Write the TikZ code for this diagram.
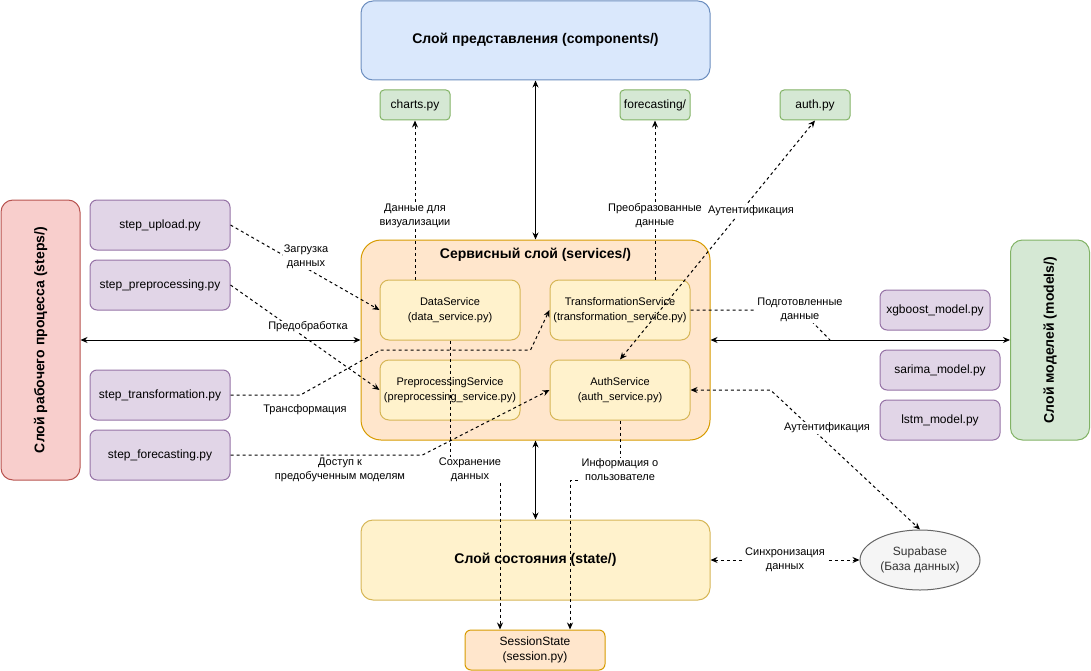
\documentclass[tikz,border=0pt]{standalone}
\usepackage{fontspec}
\setmainfont{Liberation Sans}
\usetikzlibrary{arrows.meta,shapes.geometric,calc}
\definecolor{blueF}{HTML}{DAE8FC}\definecolor{blueD}{HTML}{6C8EBF}
\definecolor{greenF}{HTML}{D5E8D4}\definecolor{greenD}{HTML}{82B366}
\definecolor{redF}{HTML}{F8CECC}\definecolor{redD}{HTML}{B85450}
\definecolor{purpF}{HTML}{E1D5E7}\definecolor{purpD}{HTML}{9673A6}
\definecolor{orF}{HTML}{FFE6CC}\definecolor{orD}{HTML}{D79B00}
\definecolor{yelF}{HTML}{FFF2CC}\definecolor{yelD}{HTML}{D6B656}
\definecolor{grayF}{HTML}{F5F5F5}\definecolor{grayD}{HTML}{666666}
\definecolor{grayT}{HTML}{333333}
\tikzset{
  base/.style={draw, line width=1pt, inner sep=0pt, align=center, font=\fontsize{12}{15}\selectfont},
  blue/.style={base, fill=blueF, draw=blueD},
  green/.style={base, fill=greenF, draw=greenD},
  red/.style={base, fill=redF, draw=redD},
  purp/.style={base, fill=purpF, draw=purpD},
  orng/.style={base, fill=orF, draw=orD},
  yel/.style={base, fill=yelF, draw=yelD},
  svcbox/.style={yel, rounded corners=9pt, minimum width=140pt, minimum height=60pt, font=\fontsize{11}{15}\selectfont},
  ttl/.style={font=\fontsize{14}{16}\selectfont\bfseries, inner sep=0pt},
  lbl/.style={font=\fontsize{11}{14}\selectfont, align=center, inner sep=1pt},
  lblw/.style={lbl, fill=white},
  sol/.style={line width=1pt, {Stealth[length=7pt,width=6pt]}-{Stealth[length=7pt,width=6pt]}},
  dsh/.style={line width=1pt, dash pattern=on 3pt off 3pt, -{Stealth[length=7pt,width=6pt]}},
  dshb/.style={line width=1pt, dash pattern=on 3pt off 3pt, {Stealth[length=7pt,width=6pt]}-{Stealth[length=7pt,width=6pt]}},
  dshn/.style={line width=1pt, dash pattern=on 3pt off 3pt},
}
\begin{document}
\begin{tikzpicture}[x=1pt,y=-1pt]
\path[use as bounding box] (0,0) rectangle (1091,671);
% layers
\node[blue, rounded corners=12pt, minimum width=349pt, minimum height=79pt] (pres) at (535.5,40.5) {};
\node[ttl] (prest) at (535.5,40) {Слой представления (components/)};
\node[red, rounded corners=12pt, minimum width=79pt, minimum height=280pt] (steps) at (40.5,340) {};
\node[ttl, rotate=90] (stepst) at (40.5,340) {Слой рабочего процесса (steps/)};
\node[orng, rounded corners=20pt, minimum width=349pt, minimum height=200pt] (svc) at (535.5,340) {};
\node[ttl] (svct) at (535.5,255) {Сервисный слой (services/)};
\node[yel, rounded corners=12pt, minimum width=349pt, minimum height=80pt] (state) at (535.5,560) {};
\node[ttl] (statet) at (535.5,560) {Слой состояния (state/)};
\node[green, rounded corners=12pt, minimum width=79pt, minimum height=200pt] (models) at (1050,340) {};
\node[ttl, rotate=90] (modelst) at (1050,340) {Слой моделей (models/)};
% components
\node[green, rounded corners=4pt, minimum width=70pt, minimum height=30pt] (charts) at (415,105) {charts.py};
\node[green, rounded corners=4pt, minimum width=70pt, minimum height=30pt] (fcst) at (655,105) {forecasting/};
\node[green, rounded corners=4pt, minimum width=70pt, minimum height=30pt] (authpy) at (815,105) {auth.py};
% steps
\node[purp, rounded corners=7pt, minimum width=140pt, minimum height=50pt] (sup) at (160,225) {step\_upload.py};
\node[purp, rounded corners=7pt, minimum width=140pt, minimum height=50pt] (spre) at (160,285) {step\_preprocessing.py};
\node[purp, rounded corners=7pt, minimum width=140pt, minimum height=50pt] (stra) at (160,395) {step\_transformation.py};
\node[purp, rounded corners=7pt, minimum width=140pt, minimum height=50pt] (sfor) at (160,455) {step\_forecasting.py};
% services
\node[svcbox] (data) at (450,310) {DataService\\(data\_service.py)};
\node[svcbox] (trans) at (620,310) {TransformationService\\(transformation\_service.py)};
\node[svcbox] (prep) at (450,390) {PreprocessingService\\(preprocessing\_service.py)};
\node[svcbox] (auth) at (620,390) {AuthService\\(auth\_service.py)};
% state
\node[orng, rounded corners=6pt, minimum width=140pt, minimum height=40pt] (sess) at (535,650) {SessionState\\(session.py)};
\node[ellipse, draw=grayD, fill=grayF, line width=1pt, inner sep=0pt, minimum width=120pt, minimum height=60pt, align=center, text=grayT, font=\fontsize{12}{15}\selectfont] (supa) at (920,560) {Supabase\\(База данных)};
% models
\node[purp, rounded corners=7pt, minimum width=110pt, minimum height=40pt] (xgb) at (935,310) {xgboost\_model.py};
\node[purp, rounded corners=7pt, minimum width=120pt, minimum height=40pt] (sar) at (940,370) {sarima\_model.py};
\node[purp, rounded corners=7pt, minimum width=120pt, minimum height=40pt] (lstm) at (940,420) {lstm\_model.py};
\coordinate (pdend) at (830,340);

% solid connectors
\draw[sol] (pres.south) -- (svc.north);
\draw[sol] (svc.south) -- (state.north);
\draw[sol] (steps.east) -- (svc.west);
\draw[sol] (svc.east) -- (models.west);

% dashed connectors
\draw[dsh] (charts.south |- data.north) -- (charts.south);
\draw[dsh] (fcst.south |- trans.north) -- (fcst.south);
\draw[dshb] (auth.north) -- (authpy.south);
\draw[dsh] (sup.east) -- (data.west);
\draw[dsh] (spre.east) -- (prep.west);
\draw[dsh] (stra.east) -- ++(70,0) -- ++(80,-45) -- ++(150,0) -- (trans.west);
\draw[dsh] (sfor.east) -- ++(192,0) -- (auth.west);
\draw[dsh] (data.south) -- ++(0,130) -- ++(50,0) -- ($(sess.north)+(-35,0)$);
\draw[dsh] (auth.south) -- ++(0,60) -- ++(-50,0) -- ($(sess.north)+(35,0)$);
\draw[dshn] (trans.east) -- ++(110,0) -- (pdend);
\draw[dshb] (auth.east) -- ++(80,0) -- (supa.north);
\draw[dshb] (state.east) -- (supa.west);

% labels
\node[lblw] (l1) at (415,216) {Данные для\\визуализации};
\node[lblw] (l2) at (655,216) {Преобразованные\\данные};
\node[lblw] (l3) at (751,211) {Аутентификация};
\node[lblw] (l4) at (306,257) {Загрузка\\данных};
\node[lblw] (l5) at (308,327) {Предобработка};
\node[lbl] (l6) at (305,410) {Трансформация};
\node[lblw] (l7) at (340,470) {Доступ к\\предобученным моделям};
\node[lblw] (l8) at (470,470) {Сохранение\\данных};
\node[lblw] (l9) at (620,470) {Информация о\\пользователе};
\node[lblw] (l10) at (800,310) {Подготовленные\\данные};
\node[lblw] (l11) at (827,428) {Аутентификация};
\node[lblw] (l12) at (785,560) {Синхронизация\\данных};
\end{tikzpicture}
\end{document}
